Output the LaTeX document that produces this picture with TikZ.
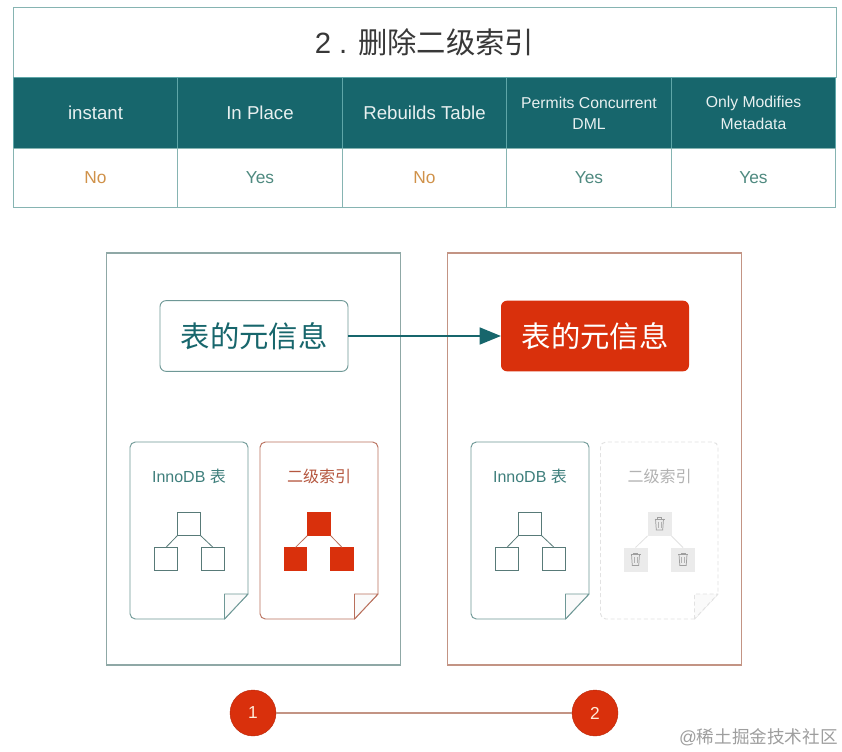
\documentclass[tikz,border=0pt]{standalone}
\usepackage{fontspec}
\setmainfont{Liberation Sans}
\newfontfamily\cjk{Noto Sans CJK SC}
\usetikzlibrary{arrows.meta}
\definecolor{tealdark}{HTML}{17666C}
\definecolor{tealline}{HTML}{86B4B2}
\definecolor{headline}{HTML}{5FA6A8}
\definecolor{panelteal}{HTML}{8FA8A6}
\definecolor{panelred}{HTML}{C39484}
\definecolor{redfill}{HTML}{D9300C}
\definecolor{docteal}{HTML}{6E9896}
\definecolor{docred}{HTML}{B9705C}
\definecolor{doctext}{HTML}{3F7F7C}
\definecolor{redtext}{HTML}{B5573F}
\definecolor{notext}{HTML}{D0924A}
\definecolor{yestext}{HTML}{4F8A80}
\definecolor{ghost}{HTML}{E2E2E2}
\definecolor{ghostfill}{HTML}{EBEBEB}
\tikzset{
  x=0.75pt,y=-0.75pt,
  titlecell/.style={draw=tealline,line width=0.7pt,fill=white,inner sep=0,outer sep=0,minimum width=617.25pt,minimum height=52.5pt,text=black!78,font=\fontsize{22}{26}\selectfont},
  headcell/.style={draw=headline,line width=0.7pt,fill=tealdark,inner sep=0,outer sep=0,minimum width=123.3pt,minimum height=53.25pt,text=white!90!tealdark,align=center,font=\fontsize{14}{17}\selectfont},
  headsmall/.style={headcell,font=\fontsize{11.8}{16}\selectfont},
  bodycell/.style={draw=tealline,line width=0.7pt,fill=white,inner sep=0,outer sep=0,minimum width=123.3pt,minimum height=44pt,font=\fontsize{13}{16}\selectfont},
  panel/.style={draw=#1,line width=0.8pt,fill=white,inner sep=0,outer sep=0,minimum width=220.5pt,minimum height=309pt},
  meta/.style={rounded corners=4.5pt,inner sep=0,outer sep=0,minimum width=141pt,minimum height=53pt,font=\fontsize{22}{26}\cjk},
  doclabel/.style={inner sep=0,font=\fontsize{12}{15}\selectfont},
  tbox/.style={draw=#1,line width=0.6pt,inner sep=0,outer sep=0,minimum size=17.5pt,fill=white},
  rbox/.style={fill=redfill,inner sep=0,outer sep=0,minimum size=17.5pt},
  gbox/.style={fill=ghostfill,inner sep=0,outer sep=0,minimum size=18pt},
  tline/.style={draw=#1,line width=0.6pt},
  step circle/.style={circle,fill=redfill,draw=redfill!85!black,line width=0.3pt,inner sep=0,outer sep=0,minimum size=34.5pt,text=white!85!orange,font=\fontsize{13}{15}\selectfont},
  trash/.pic={
    \draw[gray!75,line width=0.55pt] (-5,-5) -- (5,-5);
    \draw[gray!75,line width=0.55pt] (-2,-5) -- (-2,-6.5) -- (2,-6.5) -- (2,-5);
    \draw[gray!75,line width=0.55pt] (-4,-5) -- (-3.2,6) -- (3.2,6) -- (4,-5);
    \draw[gray!60,line width=0.45pt] (-1.3,-2.5) -- (-1.3,3.5) (1.3,-2.5) -- (1.3,3.5);
  }
}
% #1 left x, #2 right x, #3 line colour, #4 line options
\newcommand{\docshape}[4]{%
  \draw[#3,line width=0.7pt,fill=white,#4,line join=round]
    (#2-23.5,619) [rounded corners=4pt] -- (#1,619) -- (#1,442) -- (#2,442) [sharp corners] -- (#2,594) -- cycle;
  \draw[#3,line width=0.7pt,fill=black!2,#4,line join=round]
    (#2-23.5,619) -- (#2-23.5,594) -- (#2,594) -- cycle;
}
\begin{document}
\begin{tikzpicture}
\useasboundingbox (0,0) rectangle (842,752);
\fill[white] (0,0) rectangle (842,752);
% table
\node[titlecell] (title) at (424.5,42) {2 . {\cjk 删除二级索引}};
\node[headcell] (h1) at (95.5,113) {instant};
\node[headcell] (h2) at (260,113) {In Place};
\node[headcell] (h3) at (424.5,113) {Rebuilds Table};
\node[headsmall] (h4) at (589,113) {Permits Concurrent\\DML};
\node[headsmall] (h5) at (753.5,113) {Only Modifies\\Metadata};
\node[bodycell,text=notext] (b1) at (95.5,178) {No};
\node[bodycell,text=yestext] (b2) at (260,178) {Yes};
\node[bodycell,text=notext] (b3) at (424.5,178) {No};
\node[bodycell,text=yestext] (b4) at (589,178) {Yes};
\node[bodycell,text=yestext] (b5) at (753.5,178) {Yes};
% panels
\node[panel=panelteal] (p1) at (253.75,459) {};
\node[panel=panelred] (p2) at (594.75,459) {};
% meta boxes
\node[meta,draw=docteal,line width=0.7pt,fill=white,text=tealdark] (m1) at (254,336) {表的元信息};
\node[meta,fill=redfill,text=white] (m2) at (595,336) {表的元信息};
\draw[tealdark,line width=2pt,-{Triangle[length=16pt,width=12.5pt]}] (m1) -- (m2);
% left docs
\docshape{130}{248}{docteal}{}
\node[doclabel,text=doctext] (l1) at (189,476) {InnoDB {\cjk 表}};
\node[tbox=docteal!80!black] (a0) at (189,524) {};
\node[tbox=docteal!80!black] (a1) at (166,559) {};
\node[tbox=docteal!80!black] (a2) at (213,559) {};
\draw[tline=docteal!80!black] (a0.south west) -- (a1.north);
\draw[tline=docteal!80!black] (a0.south east) -- (a2.north);
\docshape{260}{378}{docred}{}
\node[doclabel,text=redtext] (l2) at (319,476) {\cjk 二级索引};
\node[rbox] (r0) at (319,524) {};
\node[rbox] (r1) at (295.5,559) {};
\node[rbox] (r2) at (342,559) {};
\draw[tline=docred] (r0.south west) -- (r1.north);
\draw[tline=docred] (r0.south east) -- (r2.north);
% right docs
\docshape{471}{589}{docteal}{}
\node[doclabel,text=doctext] (l3) at (530,476) {InnoDB {\cjk 表}};
\node[tbox=docteal!80!black] (c0) at (530,524) {};
\node[tbox=docteal!80!black] (c1) at (507,559) {};
\node[tbox=docteal!80!black] (c2) at (554,559) {};
\draw[tline=docteal!80!black] (c0.south west) -- (c1.north);
\draw[tline=docteal!80!black] (c0.south east) -- (c2.north);
\docshape{600.5}{718}{ghost}{densely dashed}
\node[doclabel,text=black!30] (l4) at (659.5,476) {\cjk 二级索引};
\node[gbox] (g0) at (659.5,524) {};
\node[gbox] (g1) at (635.5,559.5) {};
\node[gbox] (g2) at (683,559.5) {};
\draw[tline=ghost] (g0.south west) -- (g1.north);
\draw[tline=ghost] (g0.south east) -- (g2.north);
\pic at (659.5,524) {trash};
\pic at (635.5,559.5) {trash};
\pic at (683,559.5) {trash};
% timeline
\node[step circle] (s1) at (253,713) {1};
\node[step circle] (s2) at (595,713) {2};
\draw[panelred,line width=0.9pt] (s1) -- (s2);
% watermark
\node[inner sep=0,text=black!38,font=\fontsize{13.2}{16}\selectfont,anchor=east] (wm) at (838,737) {@{\cjk 稀土掘金技术社区}};
\end{tikzpicture}
\end{document}
